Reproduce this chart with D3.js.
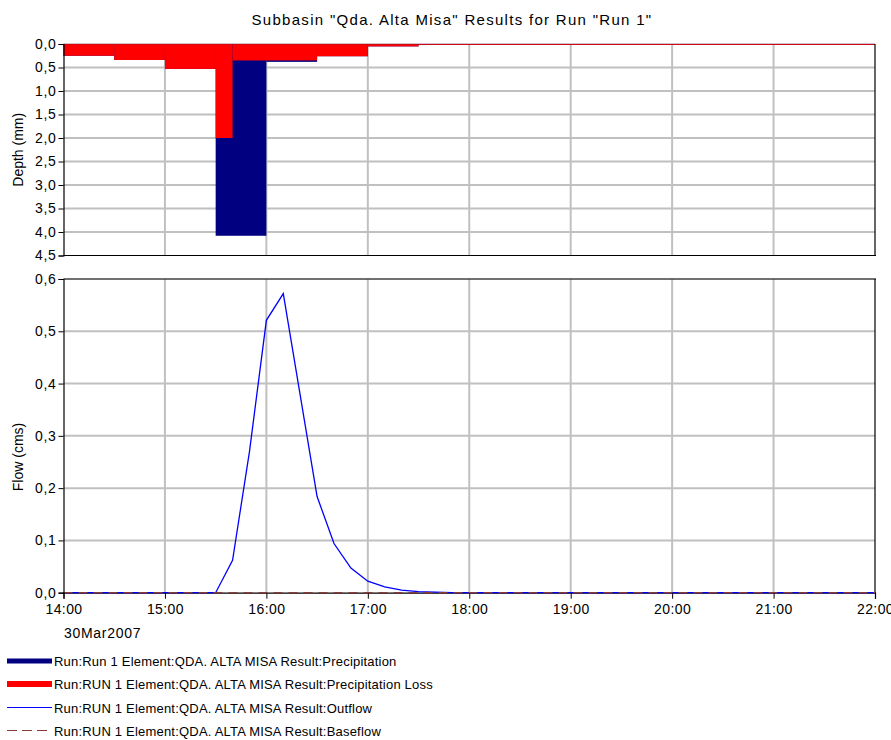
<!DOCTYPE html>
<html>
<head>
<meta charset="utf-8">
<script src="https://cdn.jsdelivr.net/npm/d3@7"></script>
<style>
  body { margin: 0; background: #fff; }
  text { font-family: "Liberation Sans", Arial, sans-serif; fill: #000; }
</style>
</head>
<body>
<svg id="chart" width="891" height="740"></svg>
<script>
// ---------- data ----------
const titleText = 'Subbasin "Qda. Alta Misa" Results for Run "Run 1"';
const dateLabel = "30Mar2007";
const xTickLabels = ["14:00","15:00","16:00","17:00","18:00","19:00","20:00","21:00","22:00"];
const depthTicks = [0,0.5,1,1.5,2,2.5,3,3.5,4,4.5];
const flowTicks = [0,0.1,0.2,0.3,0.4,0.5,0.6];

// Precipitation (mm) per interval, interval start times; last interval ends at 22:00
const precipStart = ["14:00","14:30","15:00","15:30","16:00","16:30","17:00","17:30"];
const precipDepth = [0.25, 0.34, 0.53, 4.08, 0.38, 0.26, 0.05, 0.02];
// Precipitation loss (mm)
const lossStart = ["14:00","14:30","15:00","15:30","15:40","16:30","17:00","17:30"];
const lossDepth = [0.25, 0.34, 0.53, 2.00, 0.35, 0.26, 0.05, 0.02];
const seriesEnd = "22:00";

// Outflow (cms)
const flowTimes = ["14:00","15:30","15:40","15:50","16:00","16:10","16:20","16:30","16:40","16:50","17:00","17:10","17:20","17:30","17:40","17:50","22:00"];
const flowValues = [0, 0, 0.062, 0.27, 0.521, 0.572, 0.378, 0.184, 0.094, 0.047, 0.022, 0.011, 0.005, 0.002, 0.001, 0, 0];
// Baseflow (cms)
const baseTimes = ["14:00","22:00"];
const baseValues = [0, 0];

const legendLabels = [
  "Run:Run 1 Element:QDA. ALTA MISA Result:Precipitation",
  "Run:RUN 1 Element:QDA. ALTA MISA Result:Precipitation Loss",
  "Run:RUN 1 Element:QDA. ALTA MISA Result:Outflow",
  "Run:RUN 1 Element:QDA. ALTA MISA Result:Baseflow"
];

// ---------- helpers ----------
const T = s => { const [h,m] = s.split(":").map(Number); return new Date(2007, 2, 30, h, m); };
const fmt = v => d3.format(".1f")(v).replace(".", ",");
const FONT = "Liberation Sans, Arial, sans-serif";

const svg = d3.select("#chart");
const left = 63.5, right = 875;
const x = d3.scaleTime().domain([T("14:00"), T("22:00")]).range([left, right]);
const yD = d3.scaleLinear().domain([0, 4.5]).range([44, 255.5]);
const yF = d3.scaleLinear().domain([0, 0.6]).range([592.7, 279]);

const gridColor = "#c0c0c0";
const hourTicks = xTickLabels.map(T);

// title
svg.append("text").attr("x", 452).attr("y", 25).attr("text-anchor", "middle")
  .attr("font-size", 15).attr("letter-spacing", 1.3).text(titleText);

// ---------- top panel ----------
const topG = svg.append("g");
topG.append("g").selectAll("line").data(depthTicks.slice(1, -1)).join("line")
  .attr("x1", left).attr("x2", right).attr("y1", d => yD(d)).attr("y2", d => yD(d))
  .attr("stroke", gridColor).attr("stroke-width", 2);
topG.append("g").selectAll("line").data(hourTicks.slice(1, -1)).join("line")
  .attr("x1", d => x(d)).attr("x2", d => x(d)).attr("y1", yD(0)).attr("y2", yD(4.5))
  .attr("stroke", gridColor).attr("stroke-width", 2);

const precipBars = precipStart.map((s, i) => ({ t0: T(s), t1: T(precipStart[i + 1] || seriesEnd), v: precipDepth[i] }));
const lossBars = lossStart.map((s, i) => ({ t0: T(s), t1: T(lossStart[i + 1] || seriesEnd), v: lossDepth[i] }));

topG.append("g").selectAll("rect").data(precipBars).join("rect")
  .attr("x", d => x(d.t0)).attr("width", d => x(d.t1) - x(d.t0))
  .attr("y", yD(0)).attr("height", d => yD(d.v) - yD(0))
  .attr("fill", "#000080");
topG.append("g").selectAll("rect").data(lossBars).join("rect")
  .attr("x", d => x(d.t0)).attr("width", d => x(d.t1) - x(d.t0))
  .attr("y", yD(0)).attr("height", d => yD(d.v) - yD(0))
  .attr("fill", "#ff0000");

// frame
topG.append("line").attr("x1", left).attr("x2", right).attr("y1", yD(0)).attr("y2", yD(0))
  .attr("stroke", "#602040").attr("stroke-opacity", 0.55).attr("stroke-width", 1.2);
topG.append("line").attr("x1", left).attr("x2", right + 1).attr("y1", yD(4.5)).attr("y2", yD(4.5))
  .attr("stroke", "#000").attr("stroke-width", 1.2);
topG.append("line").attr("x1", right).attr("x2", right).attr("y1", yD(0)).attr("y2", yD(4.5))
  .attr("stroke", "#000").attr("stroke-width", 1.2);

function styleYAxis(g) {
  g.select(".domain").attr("stroke", "#000").attr("stroke-width", 1.2);
  g.selectAll(".tick line").attr("stroke", "#000");
  g.selectAll("text").attr("font-size", 14).attr("font-family", FONT).attr("fill", "#000")
    .attr("letter-spacing", 0.7).attr("dx", 1);
}

const axD = d3.axisLeft(yD).tickValues(depthTicks).tickFormat(fmt).tickSize(5).tickPadding(3);
const gD = topG.append("g").attr("transform", `translate(${left},0)`).call(axD);
styleYAxis(gD);

svg.append("text").attr("transform", `translate(23,${(yD(0) + yD(4.5)) / 2}) rotate(-90)`)
  .attr("text-anchor", "middle").attr("font-size", 14).text("Depth (mm)");

// ---------- bottom panel ----------
const botG = svg.append("g");
botG.append("g").selectAll("line").data(flowTicks.slice(1, -1)).join("line")
  .attr("x1", left).attr("x2", right).attr("y1", d => yF(d)).attr("y2", d => yF(d))
  .attr("stroke", gridColor).attr("stroke-width", 2);
botG.append("g").selectAll("line").data(hourTicks.slice(1, -1)).join("line")
  .attr("x1", d => x(d)).attr("x2", d => x(d)).attr("y1", yF(0)).attr("y2", yF(0.6))
  .attr("stroke", gridColor).attr("stroke-width", 2);

botG.append("line").attr("x1", left).attr("x2", right + 1).attr("y1", yF(0.6)).attr("y2", yF(0.6))
  .attr("stroke", "#404040").attr("stroke-width", 1.5);
botG.append("line").attr("x1", right).attr("x2", right).attr("y1", yF(0.6)).attr("y2", yF(0))
  .attr("stroke", "#000").attr("stroke-width", 1.2);

const line = d3.line().x(d => x(d.t)).y(d => yF(d.v));
const flowData = flowTimes.map((t, i) => ({ t: T(t), v: flowValues[i] }));
const baseData = baseTimes.map((t, i) => ({ t: T(t), v: baseValues[i] }));

const axX = d3.axisBottom(x).tickValues(hourTicks).tickFormat((d, i) => xTickLabels[i]).tickSize(6).tickPadding(5);
const gX = botG.append("g").attr("transform", `translate(0,${yF(0)})`).call(axX);
gX.select(".domain").attr("stroke", "#000").attr("stroke-width", 1.2);
gX.selectAll(".tick line").attr("stroke", "#000");
gX.selectAll("text").attr("font-size", 14).attr("font-family", FONT).attr("fill", "#000")
  .attr("letter-spacing", 0.4);

botG.append("path").datum(flowData).attr("d", line)
  .attr("fill", "none").attr("stroke", "#0000ff").attr("stroke-width", 1.3);
botG.append("path").datum(baseData).attr("d", line)
  .attr("fill", "none").attr("stroke", "#8b3a3a").attr("stroke-width", 1.3)
  .attr("stroke-dasharray", "9,6");

const axF = d3.axisLeft(yF).tickValues(flowTicks).tickFormat(fmt).tickSize(5).tickPadding(3);
const gF = botG.append("g").attr("transform", `translate(${left},0)`).call(axF);
styleYAxis(gF);

svg.append("text").attr("transform", `translate(23,457) rotate(-90)`)
  .attr("text-anchor", "middle").attr("font-size", 14).text("Flow (cms)");

svg.append("text").attr("x", 64).attr("y", 638).attr("font-size", 14)
  .attr("letter-spacing", 0.7).text(dateLabel);

// ---------- legend ----------
const legY = [661, 684, 707.5, 730.5];
const legStyles = [
  { stroke: "#000080", w: 5, dash: null },
  { stroke: "#ff0000", w: 6, dash: null },
  { stroke: "#0000ff", w: 1.2, dash: null },
  { stroke: "#8b3a3a", w: 1.2, dash: "10,5" }
];
const leg = svg.append("g").selectAll("g").data(legendLabels).join("g")
  .attr("transform", (d, i) => `translate(0,${legY[i]})`);
leg.append("line").attr("x1", 7).attr("x2", 52).attr("y1", 0).attr("y2", 0)
  .attr("stroke", (d, i) => legStyles[i].stroke).attr("stroke-width", (d, i) => legStyles[i].w)
  .attr("stroke-dasharray", (d, i) => legStyles[i].dash);
leg.append("text").attr("x", 54).attr("y", 5).attr("font-size", 13)
  .attr("letter-spacing", 0.2).text(d => d);
</script>
</body>
</html>
